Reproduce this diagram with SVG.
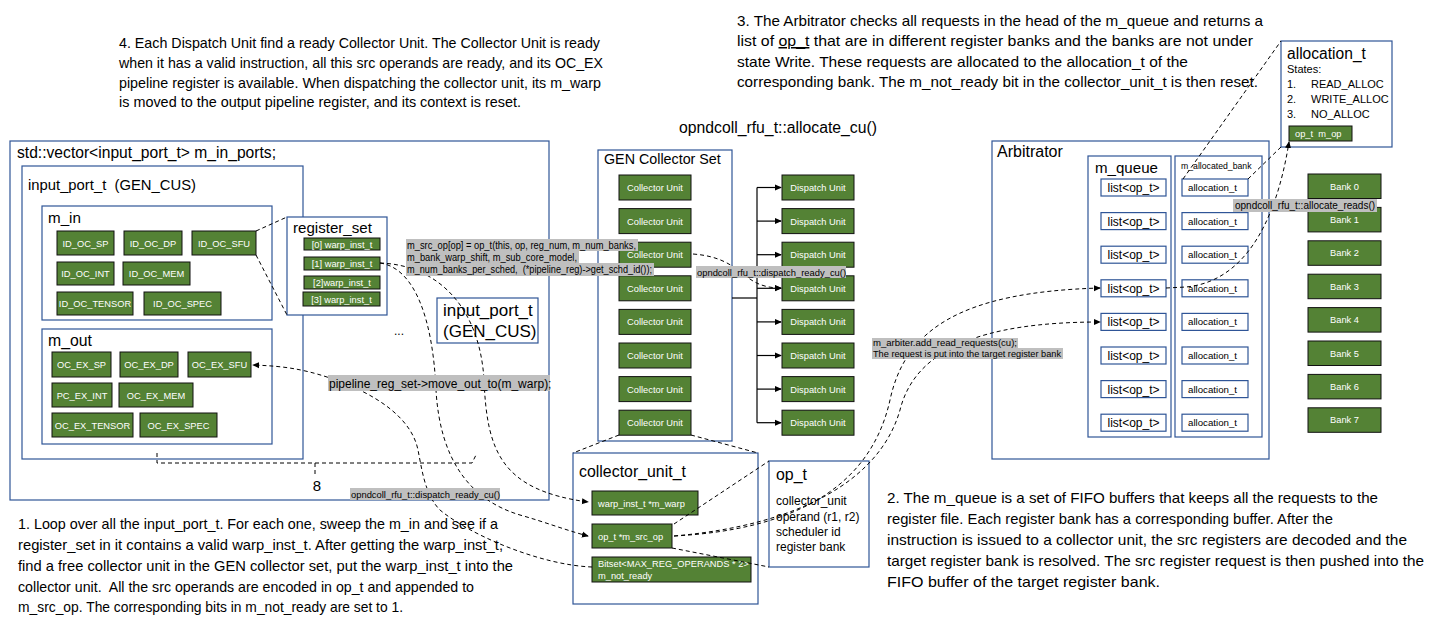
<svg xmlns="http://www.w3.org/2000/svg" width="1436" height="630" viewBox="0 0 1436 630">
<style>
text{font-family:"Liberation Sans",Arial,sans-serif;fill:#000}
.pre{white-space:pre}
.box{fill:#fff;stroke:#2f5597;stroke-width:1.2}
.g{fill:#548235;stroke:#111;stroke-width:1}
.gt{fill:#fff;font-size:9.3px;text-anchor:middle}
.para{font-size:15px}
.dash{fill:none;stroke:#000;stroke-width:1;stroke-dasharray:4 3}
.solid{fill:none;stroke:#000;stroke-width:1.2}
.hl{fill:#bfbfbf}
.lt{font-size:9.4px}
</style>
<defs>
<marker id="ah" viewBox="0 0 8 8" refX="7" refY="4" markerWidth="7" markerHeight="7" markerUnits="userSpaceOnUse" orient="auto">
<path d="M0,0.5 L8,4 L0,7.5 Z" fill="#000"/>
</marker>
</defs>

<!-- paragraphs -->
<g id="text4" class="para">
<text x="119" y="48" textLength="481" lengthAdjust="spacingAndGlyphs">4. Each Dispatch Unit find a ready Collector Unit. The Collector Unit is ready</text>
<text x="119" y="68" textLength="484" lengthAdjust="spacingAndGlyphs">when it has a valid instruction, all this src operands are ready, and its OC_EX</text>
<text x="119" y="88" textLength="482" lengthAdjust="spacingAndGlyphs">pipeline register is available. When dispatching the collector unit, its m_warp</text>
<text x="119" y="107" textLength="402" lengthAdjust="spacingAndGlyphs">is moved to the output pipeline register, and its context is reset.</text>
</g>
<g id="text3" class="para">
<text x="737" y="26" textLength="526" lengthAdjust="spacingAndGlyphs">3. The Arbitrator checks all requests in the head of the m_queue and returns a</text>
<text x="737" y="46" textLength="516" lengthAdjust="spacingAndGlyphs">list of <tspan text-decoration="underline">op_t</tspan> that are in different register banks and the banks are not under</text>
<text x="737" y="67" textLength="451" lengthAdjust="spacingAndGlyphs">state Write. These requests are allocated to the allocation_t of the</text>
<text x="737" y="87" textLength="521" lengthAdjust="spacingAndGlyphs">corresponding bank. The m_not_ready bit in the collector_unit_t is then reset.</text>
</g>
<g id="text1" class="para">
<text x="18" y="529" textLength="480" lengthAdjust="spacingAndGlyphs">1. Loop over all the input_port_t. For each one, sweep the m_in and see if a</text>
<text x="18" y="550" textLength="485" lengthAdjust="spacingAndGlyphs">register_set in it contains a valid warp_inst_t. After getting the warp_inst_t,</text>
<text x="18" y="571" textLength="495" lengthAdjust="spacingAndGlyphs">find a free collector unit in the GEN collector set, put the warp_inst_t into the</text>
<text x="18" y="592" class="pre" textLength="456" lengthAdjust="spacingAndGlyphs">collector unit.  All the src operands are encoded in op_t and appended to</text>
<text x="18" y="612" textLength="385" lengthAdjust="spacingAndGlyphs">m_src_op. The corresponding bits in m_not_ready are set to 1.</text>
</g>
<g id="text2" class="para">
<text x="887" y="503" textLength="491" lengthAdjust="spacingAndGlyphs">2. The m_queue is a set of FIFO buffers that keeps all the requests to the</text>
<text x="887" y="524" textLength="446" lengthAdjust="spacingAndGlyphs">register file. Each register bank has a corresponding buffer. After the</text>
<text x="887" y="545" textLength="520" lengthAdjust="spacingAndGlyphs">instruction is issued to a collector unit, the src registers are decoded and the</text>
<text x="887" y="566" textLength="537" lengthAdjust="spacingAndGlyphs">target register bank is resolved. The src register request is then pushed into the</text>
<text x="887" y="587" textLength="273" lengthAdjust="spacingAndGlyphs">FIFO buffer of the target register bank.</text>
</g>
<text x="679" y="133" font-size="15.8" textLength="198" lengthAdjust="spacingAndGlyphs">opndcoll_rfu_t::allocate_cu()</text>

<!-- containers -->
<g id="m_in_ports">
<rect class="box" x="10" y="141" width="539" height="359"/>
<text x="17" y="158" font-size="16.5" textLength="259" lengthAdjust="spacingAndGlyphs">std::vector&lt;input_port_t&gt; m_in_ports;</text>
</g>
<g id="input_port_gen">
<rect class="box" x="22" y="166" width="281" height="293"/>
<text x="28" y="190" class="pre" font-size="14.8" textLength="168" lengthAdjust="spacingAndGlyphs">input_port_t  (GEN_CUS)</text>
</g>
<g id="m_in">
<rect class="box" x="42" y="206" width="230" height="114"/>
<text x="48" y="223" font-size="15.2">m_in</text>
<rect class="g" x="57" y="231" width="57" height="24"/><text class="gt" x="85.5" y="246.5">ID_OC_SP</text>
<rect class="g" x="124" y="231" width="58" height="24"/><text class="gt" x="153" y="246.5">ID_OC_DP</text>
<rect class="g" x="192" y="231" width="64" height="24"/><text class="gt" x="224" y="246.5">ID_OC_SFU</text>
<rect class="g" x="57" y="262" width="57" height="23"/><text class="gt" x="85.5" y="277">ID_OC_INT</text>
<rect class="g" x="123" y="262" width="67" height="23"/><text class="gt" x="156.5" y="277">ID_OC_MEM</text>
<rect class="g" x="57" y="292" width="76" height="23"/><text class="gt" x="95" y="307">ID_OC_TENSOR</text>
<rect class="g" x="144" y="292" width="77" height="23"/><text class="gt" x="182.5" y="307">ID_OC_SPEC</text>
</g>
<g id="m_out">
<rect class="box" x="42" y="329" width="230" height="115"/>
<text x="48" y="346" font-size="15.8">m_out</text>
<rect class="g" x="52" y="352" width="59" height="25"/><text class="gt" x="81.5" y="368">OC_EX_SP</text>
<rect class="g" x="120" y="352" width="58" height="25"/><text class="gt" x="149" y="368">OC_EX_DP</text>
<rect class="g" x="188" y="352" width="63" height="25"/><text class="gt" x="219.5" y="368">OC_EX_SFU</text>
<rect class="g" x="52" y="383" width="60" height="24"/><text class="gt" x="82" y="398.5">PC_EX_INT</text>
<rect class="g" x="119" y="383" width="74" height="24"/><text class="gt" x="156" y="398.5">OC_EX_MEM</text>
<rect class="g" x="52" y="413" width="81" height="24"/><text class="gt" x="92.5" y="428.5">OC_EX_TENSOR</text>
<rect class="g" x="140" y="413" width="77" height="24"/><text class="gt" x="178.5" y="428.5">OC_EX_SPEC</text>
</g>
<g id="register_set">
<rect class="box" x="287" y="217" width="100" height="98"/>
<text x="293" y="233" font-size="15.1">register_set</text>
<rect class="g" x="304" y="238" width="76" height="12"/><text class="gt" x="342" y="247.5">[0] warp_inst_t</text>
<rect class="g" x="304" y="257" width="76" height="13"/><text class="gt" x="342" y="267">[1] warp_inst_t</text>
<rect class="g" x="304" y="276" width="76" height="13"/><text class="gt" x="342" y="286">[2]warp_inst_t</text>
<rect class="g" x="303" y="292" width="77" height="14"/><text class="gt" x="341.5" y="302.5">[3] warp_inst_t</text>
</g>
<g id="input_port_2">
<rect class="box" x="437" y="298" width="101" height="45"/>
<text x="443" y="316" font-size="17">input_port_t</text>
<text x="443" y="337" font-size="17">(GEN_CUS)</text>
</g>
<text x="399" y="335" font-size="12" text-anchor="middle">...</text>

<g id="gen_collector_set">
<rect class="box" x="598" y="150" width="134" height="291"/>
<text x="604" y="164" font-size="14.3">GEN Collector Set</text>
<rect class="g" x="619" y="175" width="72" height="25"/><text class="gt" x="655" y="191">Collector Unit</text>
<rect class="g" x="619" y="208.6" width="72" height="25"/><text class="gt" x="655" y="224.6">Collector Unit</text>
<rect class="g" x="619" y="242.2" width="72" height="25"/><text class="gt" x="655" y="258.2">Collector Unit</text>
<rect class="g" x="619" y="275.8" width="72" height="25"/><text class="gt" x="655" y="291.8">Collector Unit</text>
<rect class="g" x="619" y="309.4" width="72" height="25"/><text class="gt" x="655" y="325.4">Collector Unit</text>
<rect class="g" x="619" y="343" width="72" height="25"/><text class="gt" x="655" y="359">Collector Unit</text>
<rect class="g" x="619" y="376.6" width="72" height="25"/><text class="gt" x="655" y="392.6">Collector Unit</text>
<rect class="g" x="619" y="410.2" width="72" height="25"/><text class="gt" x="655" y="426.2">Collector Unit</text>
</g>
<g id="dispatch_units">
<rect class="g" x="782" y="175" width="72" height="25"/><text class="gt" x="818" y="191">Dispatch Unit</text>
<rect class="g" x="782" y="208.6" width="72" height="25"/><text class="gt" x="818" y="224.6">Dispatch Unit</text>
<rect class="g" x="782" y="242.2" width="72" height="25"/><text class="gt" x="818" y="258.2">Dispatch Unit</text>
<rect class="g" x="782" y="275.8" width="72" height="25"/><text class="gt" x="818" y="291.8">Dispatch Unit</text>
<rect class="g" x="782" y="309.4" width="72" height="25"/><text class="gt" x="818" y="325.4">Dispatch Unit</text>
<rect class="g" x="782" y="343" width="72" height="25"/><text class="gt" x="818" y="359">Dispatch Unit</text>
<rect class="g" x="782" y="376.6" width="72" height="25"/><text class="gt" x="818" y="392.6">Dispatch Unit</text>
<rect class="g" x="782" y="410.2" width="72" height="25"/><text class="gt" x="818" y="426.2">Dispatch Unit</text>
</g>

<g id="collector_unit_t">
<rect class="box" x="573" y="453" width="185" height="151"/>
<text x="579" y="477" font-size="15.9">collector_unit_t</text>
<rect class="g" x="592" y="491" width="106" height="24"/><text class="gt" x="598" y="506.5" style="text-anchor:start">warp_inst_t *m_warp</text>
<rect class="g" x="592" y="524" width="80" height="24"/><text class="gt" x="598" y="539.5" style="text-anchor:start">op_t *m_src_op</text>
<rect class="g" x="592" y="557" width="159" height="25"/><text class="gt" x="598" y="567" style="text-anchor:start">Bitset&lt;MAX_REG_OPERANDS * 2&gt;</text><text class="gt" x="598" y="579" style="text-anchor:start">m_not_ready</text>
</g>
<g id="op_t">
<rect class="box" x="769" y="461" width="100" height="106"/>
<text x="776" y="480" font-size="15.9">op_t</text>
<text x="776" y="505" font-size="12">collector_unit</text>
<text x="776" y="521" font-size="12">operand (r1, r2)</text>
<text x="776" y="536" font-size="12">scheduler id</text>
<text x="776" y="551" font-size="12">register bank</text>
</g>

<g id="arbitrator">
<rect class="box" x="992" y="141" width="277" height="318"/>
<text x="997" y="157" font-size="16">Arbitrator</text>
</g>
<g id="m_queue">
<rect class="box" x="1088" y="156" width="83" height="281"/>
<text x="1095" y="173" font-size="15.1">m_queue</text>
<g font-size="12" text-anchor="middle">
<rect class="box" x="1101" y="179" width="65" height="17"/><text x="1133.5" y="192">list&lt;op_t&gt;</text>
<rect class="box" x="1101" y="212.6" width="65" height="17"/><text x="1133.5" y="225.6">list&lt;op_t&gt;</text>
<rect class="box" x="1101" y="246.2" width="65" height="17"/><text x="1133.5" y="259.2">list&lt;op_t&gt;</text>
<rect class="box" x="1101" y="279.8" width="65" height="17"/><text x="1133.5" y="292.8">list&lt;op_t&gt;</text>
<rect class="box" x="1101" y="313.4" width="65" height="17"/><text x="1133.5" y="326.4">list&lt;op_t&gt;</text>
<rect class="box" x="1101" y="347" width="65" height="17"/><text x="1133.5" y="360">list&lt;op_t&gt;</text>
<rect class="box" x="1101" y="380.6" width="65" height="17"/><text x="1133.5" y="393.6">list&lt;op_t&gt;</text>
<rect class="box" x="1101" y="414.2" width="65" height="17"/><text x="1133.5" y="427.2">list&lt;op_t&gt;</text>
</g>
</g>
<g id="m_allocated_bank">
<rect class="box" x="1175" y="156" width="87" height="281"/>
<text x="1181" y="169" font-size="8.7">m_allocated_bank</text>
<g font-size="9.7">
<rect class="box" x="1182" y="179" width="66" height="17"/><text x="1188" y="191">allocation_t</text>
<rect class="box" x="1182" y="212.6" width="66" height="17"/><text x="1188" y="224.6">allocation_t</text>
<rect class="box" x="1182" y="246.2" width="66" height="17"/><text x="1188" y="258.2">allocation_t</text>
<rect class="box" x="1182" y="279.8" width="66" height="17"/><text x="1188" y="291.8">allocation_t</text>
<rect class="box" x="1182" y="313.4" width="66" height="17"/><text x="1188" y="325.4">allocation_t</text>
<rect class="box" x="1182" y="347" width="66" height="17"/><text x="1188" y="359">allocation_t</text>
<rect class="box" x="1182" y="380.6" width="66" height="17"/><text x="1188" y="392.6">allocation_t</text>
<rect class="box" x="1182" y="414.2" width="66" height="17"/><text x="1188" y="426.2">allocation_t</text>
</g>
</g>
<g id="allocation_t">
<rect class="box" x="1281" y="41" width="111" height="106"/>
<text x="1287" y="59" font-size="15.6">allocation_t</text>
<text x="1287" y="73" font-size="11">States:</text>
<text x="1287" y="88" font-size="11">1.</text><text x="1311" y="88" font-size="11">READ_ALLOC</text>
<text x="1287" y="103" font-size="11">2.</text><text x="1311" y="103" font-size="11">WRITE_ALLOC</text>
<text x="1287" y="118" font-size="11">3.</text><text x="1311" y="118" font-size="11">NO_ALLOC</text>
<rect class="g" x="1289" y="126" width="63" height="15"/><text class="gt pre" x="1295" y="137" style="text-anchor:start">op_t  m_op</text>
</g>
<g id="banks">
<rect class="g" x="1308" y="174" width="73" height="24.5"/><text class="gt" x="1344.5" y="189.5">Bank 0</text>
<rect class="g" x="1308" y="207.4" width="73" height="24.5"/><text class="gt" x="1344.5" y="222.9">Bank 1</text>
<rect class="g" x="1308" y="240.8" width="73" height="24.5"/><text class="gt" x="1344.5" y="256.3">Bank 2</text>
<rect class="g" x="1308" y="274.2" width="73" height="24.5"/><text class="gt" x="1344.5" y="289.7">Bank 3</text>
<rect class="g" x="1308" y="307.6" width="73" height="24.5"/><text class="gt" x="1344.5" y="323.1">Bank 4</text>
<rect class="g" x="1308" y="341" width="73" height="24.5"/><text class="gt" x="1344.5" y="356.5">Bank 5</text>
<rect class="g" x="1308" y="374.4" width="73" height="24.5"/><text class="gt" x="1344.5" y="389.9">Bank 6</text>
<rect class="g" x="1308" y="407.8" width="73" height="24.5"/><text class="gt" x="1344.5" y="423.3">Bank 7</text>
</g>

<!-- connectors -->
<g id="connectors">
<path class="solid" d="M732 298 H757" stroke-width="2"/>
<path class="solid" d="M757 187.5 V422.7"/>
<path class="solid" marker-end="url(#ah)" d="M757 187.5 H781"/>
<path class="solid" marker-end="url(#ah)" d="M757 221.1 H781"/>
<path class="solid" marker-end="url(#ah)" d="M757 254.7 H781"/>
<path class="solid" marker-end="url(#ah)" d="M757 288.3 H781"/>
<path class="solid" marker-end="url(#ah)" d="M757 321.9 H781"/>
<path class="solid" marker-end="url(#ah)" d="M757 355.5 H781"/>
<path class="solid" marker-end="url(#ah)" d="M757 389.1 H781"/>
<path class="solid" marker-end="url(#ah)" d="M757 422.7 H781"/>

<path class="dash" d="M256 231 L287 217"/>
<path class="dash" d="M256 255 L287 315"/>
<path class="dash" marker-end="url(#ah)" d="M380 263 C440 265 480 310 484 380 C487 450 500 490 588 502"/>
<path class="dash" marker-end="url(#ah)" d="M380 263 C415 268 433 320 436 390 C440 460 470 500 520 515 C545 522 565 530 588 536"/>
<path class="dash" marker-end="url(#ah)" d="M592 567 C540 565 470 535 440 510 C425 495 422 470 418 450 C412 420 380 395 330 378 C300 368 280 366 253 365"/>
<path class="dash" marker-end="url(#ah)" d="M693 254 C745 258 740 288 781 288"/>
<path class="dash" d="M619 435 L573 453"/>
<path class="dash" d="M691 435 L758 453"/>
<path class="dash" d="M674 524 L769 461"/>
<path class="dash" d="M672 548 L769 567"/>
<path class="dash" marker-end="url(#ah)" d="M674 536 C790 530 870 490 890 400 C905 330 960 292 1100 288"/>
<path class="dash" marker-end="url(#ah)" d="M674 536 C800 525 880 480 900 410 C915 350 980 322 1100 322"/>
<path class="dash" marker-end="url(#ah)" d="M1166 288 L1186 287 C1240 282 1275 230 1289 142"/>
<path class="dash" d="M1183 179 L1281 41"/>
<path class="dash" d="M1248 179 L1281 147"/>
<path class="dash" d="M157 453 L157 463 L472 463 L476 455"/>
<path class="dash" d="M315 463 L315 477"/>
</g>
<text x="317" y="491" font-size="15" text-anchor="middle">8</text>

<!-- labels -->
<g id="labels">
<rect class="hl" x="406" y="239" width="232" height="12"/>
<rect class="hl" x="406" y="251" width="173" height="12"/>
<rect class="hl" x="406" y="263" width="248" height="13"/>
<text x="407" y="248.5" font-size="10" textLength="229" lengthAdjust="spacingAndGlyphs">m_src_op[op] = op_t(this, op, reg_num, m_num_banks,</text>
<text x="407" y="260.5" font-size="10" textLength="170" lengthAdjust="spacingAndGlyphs">m_bank_warp_shift, m_sub_core_model,</text>
<text x="407" y="272.5" class="pre" font-size="10" textLength="245" lengthAdjust="spacingAndGlyphs">m_num_banks_per_sched,  (*pipeline_reg)-&gt;get_schd_id());</text>
<rect class="hl" x="696" y="266" width="150" height="12"/>
<text x="697" y="275.5" class="lt">opndcoll_rfu_t::dispatch_ready_cu()</text>
<rect class="hl" x="328" y="375" width="222" height="16"/>
<text x="329" y="387.5" font-size="12">pipeline_reg_set-&gt;move_out_to(m_warp);</text>
<rect class="hl" x="350" y="488" width="150" height="12"/>
<text x="351" y="497.5" class="lt">opndcoll_rfu_t::dispatch_ready_cu()</text>
<rect class="hl" x="872" y="338" width="146" height="10"/>
<rect class="hl" x="872" y="348" width="191" height="11"/>
<text x="873" y="346" font-size="9" textLength="144" lengthAdjust="spacingAndGlyphs">m_arbiter.add_read_requests(cu);</text>
<text x="873" y="357" font-size="9" textLength="188" lengthAdjust="spacingAndGlyphs">The request is put into the target register bank</text>
<rect class="hl" x="1233" y="199" width="144" height="13"/>
<text x="1235" y="209" font-size="10">opndcoll_rfu_t::allocate_reads()</text>
</g>
</svg>
